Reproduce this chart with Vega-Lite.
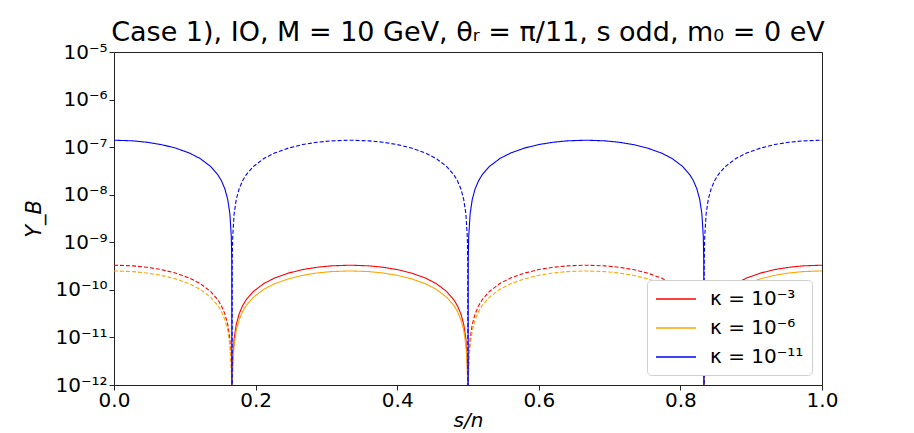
{
  "$schema": "https://vega.github.io/schema/vega-lite/v6.json",
  "autosize": {"type": "none"},
  "width": 708,
  "height": 333,
  "padding": {"left": 114, "top": 52, "right": 92, "bottom": 48},
  "config": {
    "font": "DejaVu Sans",
    "view": {"stroke": "#222", "strokeWidth": 1},
    "axis": {"grid": false, "domain": false, "tickColor": "#222", "tickSize": 5, "labelColor": "#000", "labelFontSize": 20, "titleFontSize": 21, "titleFontWeight": "normal", "titleColor": "#000", "labelPadding": 2, "labelFlush": false},
    "legend": {"orient": "bottom-right", "offset": 10, "fillColor": "white", "strokeColor": "#d0d0d0", "cornerRadius": 4, "padding": 8, "labelFontSize": 20, "labelColor": "#000", "symbolType": "M-2,0H2", "symbolSize": 400, "symbolOffset": 10, "symbolStrokeWidth": 1.3, "rowPadding": 8, "labelOffset": 23}
  },
  "title": {"text": "Case 1), IO, M = 10 GeV, θᵣ = π/11, s odd, m₀ = 0 eV", "fontSize": 27, "fontWeight": "normal", "color": "#000", "anchor": "middle", "offset": -5},
  "data": {"values": [
    {"x":0,"g":"a","p":"+","r":3.3e-10,"o":2.5e-10,"b":1.4e-7},
    {"x":0.026667,"g":"a","p":"+","r":3.196e-10,"o":2.421e-10,"b":1.356e-7},
    {"x":0.046667,"g":"a","p":"+","r":2.986e-10,"o":2.262e-10,"b":1.2668e-7},
    {"x":0.066667,"g":"a","p":"+","r":2.670e-10,"o":2.023e-10,"b":1.1326e-7},
    {"x":0.086667,"g":"a","p":"+","r":2.259e-10,"o":1.711e-10,"b":9.584e-8},
    {"x":0.106667,"g":"a","p":"+","r":1.768e-10,"o":1.340e-10,"b":7.502e-8},
    {"x":0.121667,"g":"a","p":"+","r":1.358e-10,"o":1.029e-10,"b":5.761e-8},
    {"x":0.136667,"g":"a","p":"+","r":9.207e-11,"o":6.975e-11,"b":3.906e-8},
    {"x":0.146667,"g":"a","p":"+","r":6.184e-11,"o":4.685e-11,"b":2.623e-8},
    {"x":0.151667,"g":"a","p":"+","r":4.650e-11,"o":3.523e-11,"b":1.973e-8},
    {"x":0.156667,"g":"a","p":"+","r":3.106e-11,"o":2.353e-11,"b":1.3175e-8},
    {"x":0.160667,"g":"a","p":"+","r":1.865e-11,"o":1.413e-11,"b":7.913e-9},
    {"x":0.163667,"g":"a","p":"+","r":9.33e-12,"o":7.07e-12,"b":3.958e-9},
    {"x":0.165667,"g":"a","p":"+","r":3.11e-12,"o":2.356e-12,"b":1.319e-9},
    {"x":0.166367,"g":"a","p":"+","r":9.33e-13,"o":7.07e-13,"b":3.958e-10},
    {"x":0.166667,"g":"a","p":"+","r":1e-15,"o":1e-15,"b":1e-15},

    {"x":0.166667,"g":"b","p":"-","r":1e-15,"o":1e-15,"b":1e-15},
    {"x":0.166967,"g":"b","p":"-","r":9.33e-13,"o":7.07e-13,"b":3.958e-10},
    {"x":0.167667,"g":"b","p":"-","r":3.11e-12,"o":2.356e-12,"b":1.319e-9},
    {"x":0.169667,"g":"b","p":"-","r":9.33e-12,"o":7.07e-12,"b":3.958e-9},
    {"x":0.172667,"g":"b","p":"-","r":1.865e-11,"o":1.413e-11,"b":7.913e-9},
    {"x":0.176667,"g":"b","p":"-","r":3.106e-11,"o":2.353e-11,"b":1.3175e-8},
    {"x":0.181667,"g":"b","p":"-","r":4.650e-11,"o":3.523e-11,"b":1.973e-8},
    {"x":0.186667,"g":"b","p":"-","r":6.184e-11,"o":4.685e-11,"b":2.623e-8},
    {"x":0.196667,"g":"b","p":"-","r":9.207e-11,"o":6.975e-11,"b":3.906e-8},
    {"x":0.211667,"g":"b","p":"-","r":1.358e-10,"o":1.029e-10,"b":5.761e-8},
    {"x":0.226667,"g":"b","p":"-","r":1.768e-10,"o":1.340e-10,"b":7.502e-8},
    {"x":0.246667,"g":"b","p":"-","r":2.259e-10,"o":1.711e-10,"b":9.584e-8},
    {"x":0.266667,"g":"b","p":"-","r":2.670e-10,"o":2.023e-10,"b":1.1326e-7},
    {"x":0.286667,"g":"b","p":"-","r":2.986e-10,"o":2.262e-10,"b":1.2668e-7},
    {"x":0.306667,"g":"b","p":"-","r":3.196e-10,"o":2.421e-10,"b":1.356e-7},
    {"x":0.333333,"g":"b","p":"-","r":3.3e-10,"o":2.5e-10,"b":1.4e-7},
    {"x":0.36,"g":"b","p":"-","r":3.196e-10,"o":2.421e-10,"b":1.356e-7},
    {"x":0.38,"g":"b","p":"-","r":2.986e-10,"o":2.262e-10,"b":1.2668e-7},
    {"x":0.4,"g":"b","p":"-","r":2.670e-10,"o":2.023e-10,"b":1.1326e-7},
    {"x":0.42,"g":"b","p":"-","r":2.259e-10,"o":1.711e-10,"b":9.584e-8},
    {"x":0.44,"g":"b","p":"-","r":1.768e-10,"o":1.340e-10,"b":7.502e-8},
    {"x":0.455,"g":"b","p":"-","r":1.358e-10,"o":1.029e-10,"b":5.761e-8},
    {"x":0.47,"g":"b","p":"-","r":9.207e-11,"o":6.975e-11,"b":3.906e-8},
    {"x":0.48,"g":"b","p":"-","r":6.184e-11,"o":4.685e-11,"b":2.623e-8},
    {"x":0.485,"g":"b","p":"-","r":4.650e-11,"o":3.523e-11,"b":1.973e-8},
    {"x":0.49,"g":"b","p":"-","r":3.106e-11,"o":2.353e-11,"b":1.3175e-8},
    {"x":0.494,"g":"b","p":"-","r":1.865e-11,"o":1.413e-11,"b":7.913e-9},
    {"x":0.497,"g":"b","p":"-","r":9.33e-12,"o":7.07e-12,"b":3.958e-9},
    {"x":0.499,"g":"b","p":"-","r":3.11e-12,"o":2.356e-12,"b":1.319e-9},
    {"x":0.4997,"g":"b","p":"-","r":9.33e-13,"o":7.07e-13,"b":3.958e-10},
    {"x":0.5,"g":"b","p":"-","r":1e-15,"o":1e-15,"b":1e-15},

    {"x":0.5,"g":"c","p":"+","r":1e-15,"o":1e-15,"b":1e-15},
    {"x":0.5003,"g":"c","p":"+","r":9.33e-13,"o":7.07e-13,"b":3.958e-10},
    {"x":0.501,"g":"c","p":"+","r":3.11e-12,"o":2.356e-12,"b":1.319e-9},
    {"x":0.503,"g":"c","p":"+","r":9.33e-12,"o":7.07e-12,"b":3.958e-9},
    {"x":0.506,"g":"c","p":"+","r":1.865e-11,"o":1.413e-11,"b":7.913e-9},
    {"x":0.51,"g":"c","p":"+","r":3.106e-11,"o":2.353e-11,"b":1.3175e-8},
    {"x":0.515,"g":"c","p":"+","r":4.650e-11,"o":3.523e-11,"b":1.973e-8},
    {"x":0.52,"g":"c","p":"+","r":6.184e-11,"o":4.685e-11,"b":2.623e-8},
    {"x":0.53,"g":"c","p":"+","r":9.207e-11,"o":6.975e-11,"b":3.906e-8},
    {"x":0.545,"g":"c","p":"+","r":1.358e-10,"o":1.029e-10,"b":5.761e-8},
    {"x":0.56,"g":"c","p":"+","r":1.768e-10,"o":1.340e-10,"b":7.502e-8},
    {"x":0.58,"g":"c","p":"+","r":2.259e-10,"o":1.711e-10,"b":9.584e-8},
    {"x":0.6,"g":"c","p":"+","r":2.670e-10,"o":2.023e-10,"b":1.1326e-7},
    {"x":0.62,"g":"c","p":"+","r":2.986e-10,"o":2.262e-10,"b":1.2668e-7},
    {"x":0.64,"g":"c","p":"+","r":3.196e-10,"o":2.421e-10,"b":1.356e-7},
    {"x":0.666667,"g":"c","p":"+","r":3.3e-10,"o":2.5e-10,"b":1.4e-7},
    {"x":0.693333,"g":"c","p":"+","r":3.196e-10,"o":2.421e-10,"b":1.356e-7},
    {"x":0.713333,"g":"c","p":"+","r":2.986e-10,"o":2.262e-10,"b":1.2668e-7},
    {"x":0.733333,"g":"c","p":"+","r":2.670e-10,"o":2.023e-10,"b":1.1326e-7},
    {"x":0.753333,"g":"c","p":"+","r":2.259e-10,"o":1.711e-10,"b":9.584e-8},
    {"x":0.773333,"g":"c","p":"+","r":1.768e-10,"o":1.340e-10,"b":7.502e-8},
    {"x":0.788333,"g":"c","p":"+","r":1.358e-10,"o":1.029e-10,"b":5.761e-8},
    {"x":0.803333,"g":"c","p":"+","r":9.207e-11,"o":6.975e-11,"b":3.906e-8},
    {"x":0.813333,"g":"c","p":"+","r":6.184e-11,"o":4.685e-11,"b":2.623e-8},
    {"x":0.818333,"g":"c","p":"+","r":4.650e-11,"o":3.523e-11,"b":1.973e-8},
    {"x":0.823333,"g":"c","p":"+","r":3.106e-11,"o":2.353e-11,"b":1.3175e-8},
    {"x":0.827333,"g":"c","p":"+","r":1.865e-11,"o":1.413e-11,"b":7.913e-9},
    {"x":0.830333,"g":"c","p":"+","r":9.33e-12,"o":7.07e-12,"b":3.958e-9},
    {"x":0.832333,"g":"c","p":"+","r":3.11e-12,"o":2.356e-12,"b":1.319e-9},
    {"x":0.833033,"g":"c","p":"+","r":9.33e-13,"o":7.07e-13,"b":3.958e-10},
    {"x":0.833333,"g":"c","p":"+","r":1e-15,"o":1e-15,"b":1e-15},

    {"x":0.833333,"g":"d","p":"-","r":1e-15,"o":1e-15,"b":1e-15},
    {"x":0.833633,"g":"d","p":"-","r":9.33e-13,"o":7.07e-13,"b":3.958e-10},
    {"x":0.834333,"g":"d","p":"-","r":3.11e-12,"o":2.356e-12,"b":1.319e-9},
    {"x":0.836333,"g":"d","p":"-","r":9.33e-12,"o":7.07e-12,"b":3.958e-9},
    {"x":0.839333,"g":"d","p":"-","r":1.865e-11,"o":1.413e-11,"b":7.913e-9},
    {"x":0.843333,"g":"d","p":"-","r":3.106e-11,"o":2.353e-11,"b":1.3175e-8},
    {"x":0.848333,"g":"d","p":"-","r":4.650e-11,"o":3.523e-11,"b":1.973e-8},
    {"x":0.853333,"g":"d","p":"-","r":6.184e-11,"o":4.685e-11,"b":2.623e-8},
    {"x":0.863333,"g":"d","p":"-","r":9.207e-11,"o":6.975e-11,"b":3.906e-8},
    {"x":0.878333,"g":"d","p":"-","r":1.358e-10,"o":1.029e-10,"b":5.761e-8},
    {"x":0.893333,"g":"d","p":"-","r":1.768e-10,"o":1.340e-10,"b":7.502e-8},
    {"x":0.913333,"g":"d","p":"-","r":2.259e-10,"o":1.711e-10,"b":9.584e-8},
    {"x":0.933333,"g":"d","p":"-","r":2.670e-10,"o":2.023e-10,"b":1.1326e-7},
    {"x":0.953333,"g":"d","p":"-","r":2.986e-10,"o":2.262e-10,"b":1.2668e-7},
    {"x":0.973333,"g":"d","p":"-","r":3.196e-10,"o":2.421e-10,"b":1.356e-7},
    {"x":1,"g":"d","p":"-","r":3.3e-10,"o":2.5e-10,"b":1.4e-7}
  ]},
  "encoding": {
    "x": {"field": "x", "type": "quantitative", "scale": {"domain": [0, 1], "nice": false, "zero": false}, "axis": {"title": "s/n", "titleFontStyle": "italic", "titleFontSize": 20, "values": [0, 0.2, 0.4, 0.6, 0.8, 1.0], "format": ".1f", "labelPadding": 0, "titlePadding": 0}},
    "detail": {"field": "g"}
  },
  "layer": [
    {
      "mark": {"type": "line", "clip": true, "strokeWidth": 1.1},
      "encoding": {
        "y": {"field": "r", "type": "quantitative", "scale": {"type": "log", "domain": [1e-12, 1e-5], "nice": false}, "axis": {"title": "Y_B", "titleFontStyle": "italic", "values": [1e-12, 1e-11, 1e-10, 1e-9, 1e-8, 1e-7, 1e-6, 1e-5], "labelExpr": "['10⁻¹²','10⁻¹¹','10⁻¹⁰','10⁻⁹','10⁻⁸','10⁻⁷','10⁻⁶','10⁻⁵'][round(log(datum.value)/LN10)+12]", "titlePadding": 10}},
        "color": {"datum": "κ = 10⁻³", "type": "nominal", "scale": {"domain": ["κ = 10⁻³", "κ = 10⁻⁶", "κ = 10⁻¹¹"], "range": ["#ff0000", "#ffa500", "#0000ff"]}, "legend": {"title": null}},
        "strokeDash": {"field": "p", "type": "nominal", "scale": {"domain": ["-", "+"], "range": [[1, 0], [4, 2]]}, "legend": null}
      }
    },
    {
      "mark": {"type": "line", "clip": true, "strokeWidth": 1.1},
      "encoding": {
        "y": {"field": "o", "type": "quantitative"},
        "color": {"datum": "κ = 10⁻⁶", "type": "nominal"},
        "strokeDash": {"field": "p", "type": "nominal", "scale": {"domain": ["-", "+"], "range": [[1, 0], [4, 2]]}, "legend": null}
      }
    },
    {
      "mark": {"type": "line", "clip": true, "strokeWidth": 1.1},
      "encoding": {
        "y": {"field": "b", "type": "quantitative"},
        "color": {"datum": "κ = 10⁻¹¹", "type": "nominal"},
        "strokeDash": {"field": "p", "type": "nominal", "scale": {"domain": ["+", "-"], "range": [[1, 0], [4, 2]]}, "legend": null}
      }
    }
  ],
  "resolve": {"scale": {"strokeDash": "independent"}}
}
